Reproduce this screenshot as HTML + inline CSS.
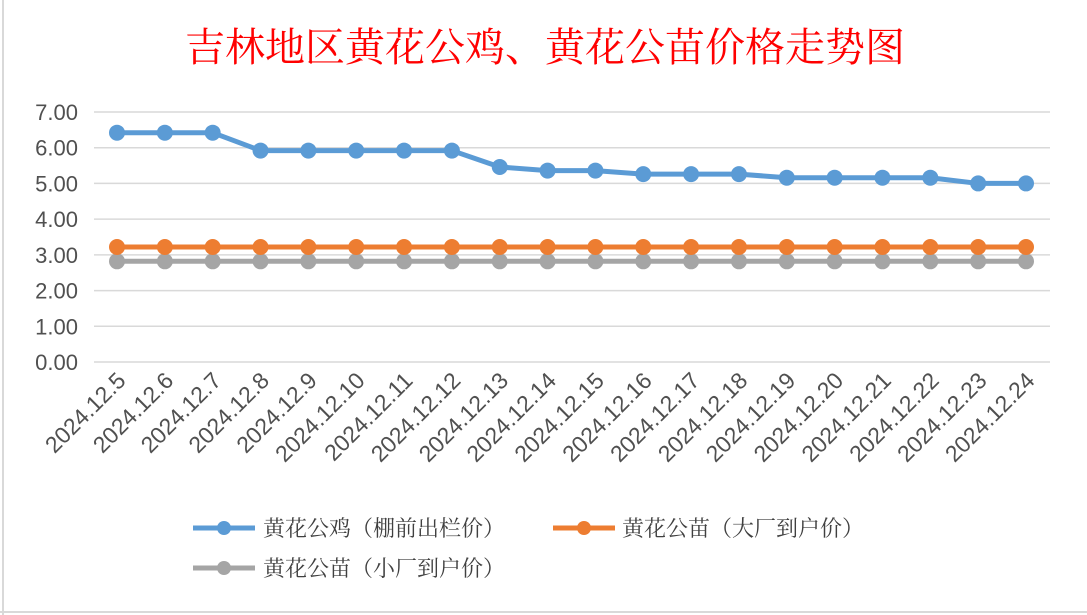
<!DOCTYPE html>
<html><head><meta charset="utf-8"><style>
html,body{margin:0;padding:0;background:#fff;}
svg{display:block;font-family:"Liberation Sans","Noto Sans CJK SC",sans-serif;}
</style></head><body>
<svg id="chart" width="1087" height="615">
<rect x="0" y="0" width="1087" height="615" fill="#fff"/>
<line x1="3" y1="0" x2="3" y2="615" stroke="#d9d9d9" stroke-width="2"/>
<line x1="0" y1="612" x2="1087" y2="612" stroke="#d9d9d9" stroke-width="2"/>
<text x="545" y="61" text-anchor="middle" fill="#ff0000" font-size="40" style="font-family:'Liberation Serif','Noto Serif CJK SC',serif">吉林地区黄花公鸡、黄花公苗价格走势图</text>
<g id="grid"></g><g id="ylabels"></g><g id="xlabels"></g><g id="series"></g>
<g style="font-family:'Liberation Serif','Noto Serif CJK SC',serif">
 <g>
  <line x1="193" y1="528" x2="255" y2="528" stroke="#5b9bd5" stroke-width="5"/>
  <circle cx="224" cy="528" r="7" fill="#5b9bd5"/>
  <text x="263" y="536" font-size="22" fill="#404040">黄花公鸡（棚前出栏价）</text>
 </g>
 <g>
  <line x1="553" y1="528" x2="615" y2="528" stroke="#ed7d31" stroke-width="5"/>
  <circle cx="584" cy="528" r="7" fill="#ed7d31"/>
  <text x="622" y="536" font-size="22" fill="#404040">黄花公苗（大厂到户价）</text>
 </g>
 <g>
  <line x1="193" y1="568" x2="255" y2="568" stroke="#a5a5a5" stroke-width="5"/>
  <circle cx="224" cy="568" r="7" fill="#a5a5a5"/>
  <text x="263" y="576" font-size="22" fill="#404040">黄花公苗（小厂到户价）</text>
 </g>
</g>
</svg>
<script>
const categories = ["2024.12.5","2024.12.6","2024.12.7","2024.12.8","2024.12.9","2024.12.10","2024.12.11","2024.12.12","2024.12.13","2024.12.14","2024.12.15","2024.12.16","2024.12.17","2024.12.18","2024.12.19","2024.12.20","2024.12.21","2024.12.22","2024.12.23","2024.12.24"];
const roosterPrice = [6.42,6.42,6.42,5.92,5.92,5.92,5.92,5.92,5.46,5.36,5.36,5.26,5.26,5.26,5.16,5.16,5.16,5.16,5.0,5.0];
const chickLargePrice = [3.22,3.22,3.22,3.22,3.22,3.22,3.22,3.22,3.22,3.22,3.22,3.22,3.22,3.22,3.22,3.22,3.22,3.22,3.22,3.22];
const chickSmallPrice = [2.82,2.82,2.82,2.82,2.82,2.82,2.82,2.82,2.82,2.82,2.82,2.82,2.82,2.82,2.82,2.82,2.82,2.82,2.82,2.82];
const yTicks = [0,1,2,3,4,5,6,7];
const NS="http://www.w3.org/2000/svg";
const yMin=0,yMax=7,yTop=112,yBot=362,x0=117,x1=1026,gridL=94,gridR=1050;
function yScale(v){return yBot-(v-yMin)/(yMax-yMin)*(yBot-yTop);}
function xScale(i){return x0+i*(x1-x0)/(categories.length-1);}
function mk(tag,attrs,parent){const e=document.createElementNS(NS,tag);for(const k in attrs)e.setAttribute(k,attrs[k]);parent.appendChild(e);return e;}
const grid=document.getElementById('grid'),yl=document.getElementById('ylabels'),xl=document.getElementById('xlabels'),ser=document.getElementById('series');
yTicks.forEach(t=>{
  const l=mk('line',{x1:gridL,x2:gridR,y1:yScale(t),y2:yScale(t),stroke:'#d9d9d9','stroke-width':1.5},grid);
  
  
  const tx=mk('text',{x:78,y:yScale(t)+8,'text-anchor':'end','font-size':22,fill:'#505050'},yl);
  tx.textContent=t.toFixed(2);
  
  
});
categories.forEach((c,i)=>{
  const x=xScale(i)+10,y=382;
  const tx=mk('text',{x:x,y:y,'text-anchor':'end','font-size':23,fill:'#505050',transform:`rotate(-45 ${x} ${y})`},xl);
  tx.textContent=c;
  
  
});
function drawSeries(vals,color,name){
  const g=mk('g',{},ser);
  
  
  const pts=vals.map((v,i)=>xScale(i)+','+yScale(v)).join(' ');
  const pl=mk('polyline',{points:pts,fill:'none',stroke:color,'stroke-width':5,'stroke-linejoin':'round'},g);
  
  
  vals.forEach((v,i)=>{
    const c=mk('circle',{cx:xScale(i),cy:yScale(v),r:8,fill:color},g);
    
    
  });
}
drawSeries(chickSmallPrice,'#a5a5a5','series-chick-small');
drawSeries(chickLargePrice,'#ed7d31','series-chick-large');
drawSeries(roosterPrice,'#5b9bd5','series-rooster');
</script>
</body></html>
